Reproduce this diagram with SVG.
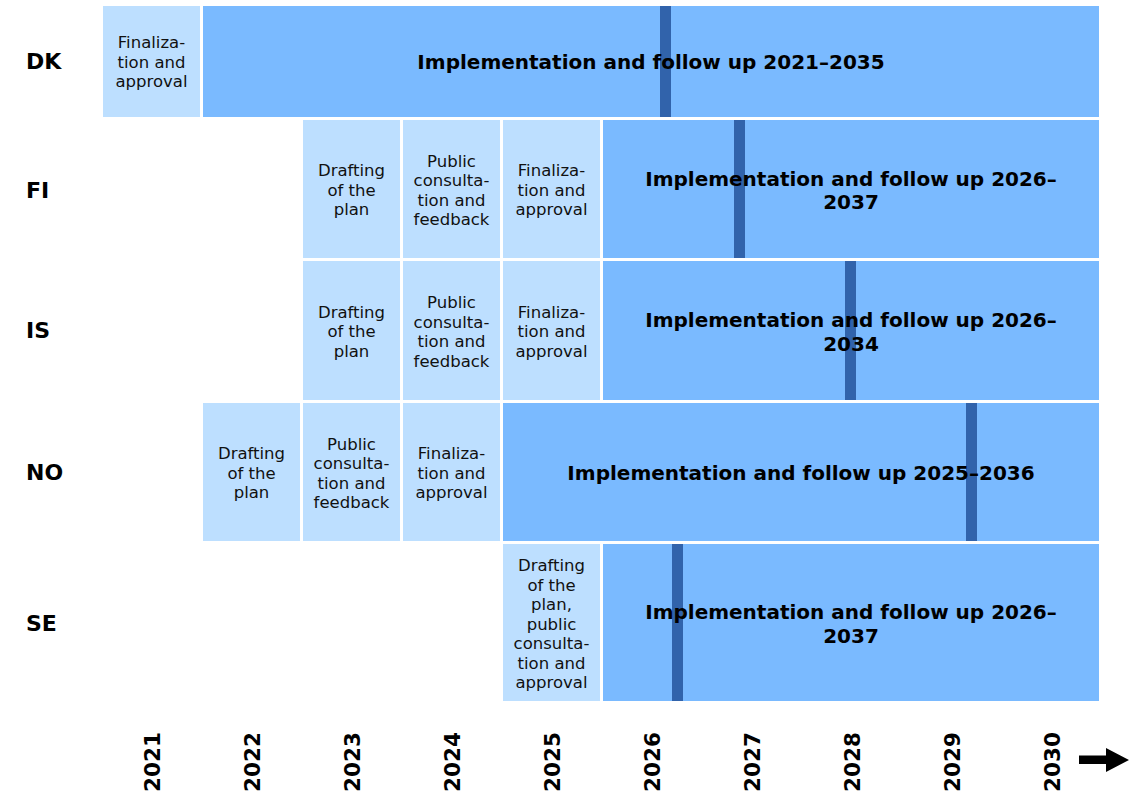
<svg xmlns="http://www.w3.org/2000/svg" width="1134" height="795" viewBox="0 0 1134 795">
<style>
.ph{fill:#BDDFFF}
.im{fill:#7ABAFF}
.bar{fill:#3163AB}
.t{font-family:"DejaVu Sans","Verdana",sans-serif;font-size:16.5px;fill:#111;text-anchor:middle}
.b{font-family:"DejaVu Sans","Verdana",sans-serif;font-size:20px;font-weight:bold;fill:#000;text-anchor:middle}
.c{font-family:"DejaVu Sans","Verdana",sans-serif;font-size:22px;font-weight:bold;fill:#000}
.y{font-family:"DejaVu Sans","Verdana",sans-serif;font-size:21.5px;font-weight:bold;fill:#000}
</style>
<rect width="1134" height="795" fill="#fff"/>
<g id="labels">
<text class="c" x="26" y="69">DK</text>
<text class="c" x="26" y="198">FI</text>
<text class="c" x="26" y="338">IS</text>
<text class="c" x="26" y="480">NO</text>
<text class="c" x="26" y="631">SE</text>
</g>
<g id="dk">
<rect class="ph" x="103" y="6" width="97" height="111"/>
<text class="t"><tspan x="151.5" y="48">Finaliza-</tspan><tspan x="151.5" y="67.5">tion and</tspan><tspan x="151.5" y="87">approval</tspan></text>
<rect class="im" x="203" y="6" width="896" height="111"/>
<rect class="bar" x="660" y="6" width="11" height="111"/>
<text class="b" x="651" y="69">Implementation and follow up 2021–2035</text>
</g>
<g id="fi">
<rect class="ph" x="303" y="120" width="97" height="138"/>
<text class="t"><tspan x="351.5" y="176">Drafting</tspan><tspan x="351.5" y="195.5">of the</tspan><tspan x="351.5" y="215">plan</tspan></text>
<rect class="ph" x="403" y="120" width="97" height="138"/>
<text class="t"><tspan x="451.5" y="166.5">Public</tspan><tspan x="451.5" y="186">consulta-</tspan><tspan x="451.5" y="205.5">tion and</tspan><tspan x="451.5" y="225">feedback</tspan></text>
<rect class="ph" x="503" y="120" width="97" height="138"/>
<text class="t"><tspan x="551.5" y="176">Finaliza-</tspan><tspan x="551.5" y="195.5">tion and</tspan><tspan x="551.5" y="215">approval</tspan></text>
<rect class="im" x="603" y="120" width="496" height="138"/>
<rect class="bar" x="734" y="120" width="11" height="138"/>
<text class="b"><tspan x="851" y="186">Implementation and follow up 2026–</tspan><tspan x="851" y="209">2037</tspan></text>
</g>
<g id="is">
<rect class="ph" x="303" y="261" width="97" height="139"/>
<text class="t"><tspan x="351.5" y="317.5">Drafting</tspan><tspan x="351.5" y="337">of the</tspan><tspan x="351.5" y="356.5">plan</tspan></text>
<rect class="ph" x="403" y="261" width="97" height="139"/>
<text class="t"><tspan x="451.5" y="308">Public</tspan><tspan x="451.5" y="327.5">consulta-</tspan><tspan x="451.5" y="347">tion and</tspan><tspan x="451.5" y="366.5">feedback</tspan></text>
<rect class="ph" x="503" y="261" width="97" height="139"/>
<text class="t"><tspan x="551.5" y="317.5">Finaliza-</tspan><tspan x="551.5" y="337">tion and</tspan><tspan x="551.5" y="356.5">approval</tspan></text>
<rect class="im" x="603" y="261" width="496" height="139"/>
<rect class="bar" x="845" y="261" width="11" height="139"/>
<text class="b"><tspan x="851" y="327">Implementation and follow up 2026–</tspan><tspan x="851" y="351">2034</tspan></text>
</g>
<g id="no">
<rect class="ph" x="203" y="403" width="97" height="138"/>
<text class="t"><tspan x="251.5" y="459">Drafting</tspan><tspan x="251.5" y="478.5">of the</tspan><tspan x="251.5" y="498">plan</tspan></text>
<rect class="ph" x="303" y="403" width="97" height="138"/>
<text class="t"><tspan x="351.5" y="449.5">Public</tspan><tspan x="351.5" y="469">consulta-</tspan><tspan x="351.5" y="488.5">tion and</tspan><tspan x="351.5" y="508">feedback</tspan></text>
<rect class="ph" x="403" y="403" width="97" height="138"/>
<text class="t"><tspan x="451.5" y="459">Finaliza-</tspan><tspan x="451.5" y="478.5">tion and</tspan><tspan x="451.5" y="498">approval</tspan></text>
<rect class="im" x="503" y="403" width="596" height="138"/>
<rect class="bar" x="966" y="403" width="11" height="138"/>
<text class="b" x="801" y="480">Implementation and follow up 2025–2036</text>
</g>
<g id="se">
<rect class="ph" x="503" y="544" width="97" height="157"/>
<text class="t"><tspan x="551.5" y="571">Drafting</tspan><tspan x="551.5" y="590.5">of the</tspan><tspan x="551.5" y="610">plan,</tspan><tspan x="551.5" y="629.5">public</tspan><tspan x="551.5" y="649">consulta-</tspan><tspan x="551.5" y="668.5">tion and</tspan><tspan x="551.5" y="688">approval</tspan></text>
<rect class="im" x="603" y="544" width="496" height="157"/>
<rect class="bar" x="672" y="544" width="11" height="157"/>
<text class="b"><tspan x="851" y="619">Implementation and follow up 2026–</tspan><tspan x="851" y="643">2037</tspan></text>
</g>
<g id="years">
<text class="y" transform="translate(160,792) rotate(-90)">2021</text>
<text class="y" transform="translate(260,792) rotate(-90)">2022</text>
<text class="y" transform="translate(360,792) rotate(-90)">2023</text>
<text class="y" transform="translate(460,792) rotate(-90)">2024</text>
<text class="y" transform="translate(560,792) rotate(-90)">2025</text>
<text class="y" transform="translate(660,792) rotate(-90)">2026</text>
<text class="y" transform="translate(760,792) rotate(-90)">2027</text>
<text class="y" transform="translate(860,792) rotate(-90)">2028</text>
<text class="y" transform="translate(960,792) rotate(-90)">2029</text>
<text class="y" transform="translate(1060,792) rotate(-90)">2030</text>
</g>
<g id="connectors">
<polygon points="1079,755.5 1106,755.5 1106,748 1129,760 1106,772 1106,764 1079,764" fill="#000"/>
</g>
</svg>
